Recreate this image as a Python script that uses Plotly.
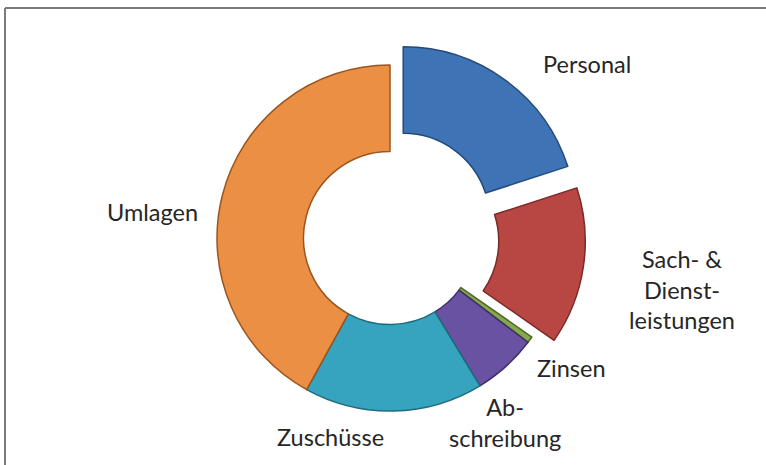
import plotly.graph_objects as go

# Anteile in Prozent, im Uhrzeigersinn ab 12 Uhr
labels = ["Personal", "Sach- & Dienstleistungen", "Zinsen", "Abschreibung", "Zuschüsse", "Umlagen"]
label_texts = ["Personal", "Sach- &<br>Dienst-<br>leistungen", "Zinsen", "Ab-<br>schreibung", "Zuschüsse", "Umlagen"]
values = [20.0, 14.7, 0.6, 6.0, 16.7, 42.0]
pulls = [0.13, 0.13, 0, 0, 0, 0]

colors = ["#3E73B5", "#B84744", "#86A84A", "#6A52A3", "#36A4BE", "#EB8F45"]
edges = ["#24497A", "#7A2A28", "#50682A", "#3E2F6A", "#1F6C7E", "#9A5520"]

# Beschriftungspositionen in Pixeln (x, y) im 766x465-Bild
W, H = 766, 465
label_pos = [(587, 64), (682, 289), (571, 368), (505, 422), (330, 437), (152, 212)]

fig = go.Figure(go.Pie(
    labels=labels,
    values=values,
    hole=0.5,
    pull=pulls,
    sort=False,
    direction="clockwise",
    rotation=0,
    textinfo="none",
    hoverinfo="label+percent",
    marker=dict(colors=colors, line=dict(color=edges, width=1.5)),
    domain=dict(x=[194.5 / W, 585.5 / W], y=[1 - 433.5 / H, 1 - 42.5 / H]),
    showlegend=False,
))

for txt, (px, py) in zip(label_texts, label_pos):
    fig.add_annotation(
        x=px / W, y=1 - py / H, xref="paper", yref="paper",
        text=txt, showarrow=False, align="center",
        xanchor="center", yanchor="middle",
        font=dict(family="Lato", size=23.5, color="#262626"),
    )

# Rahmen oben und links
fig.add_shape(type="line", xref="paper", yref="paper",
              x0=5 / W, x1=1, y0=1 - 8 / H, y1=1 - 8 / H,
              line=dict(color="#7A7A7A", width=2))
fig.add_shape(type="line", xref="paper", yref="paper",
              x0=5 / W, x1=5 / W, y0=0, y1=1 - 8 / H,
              line=dict(color="#7A7A7A", width=2))

fig.update_layout(
    width=W, height=H,
    margin=dict(l=0, r=0, t=0, b=0),
    paper_bgcolor="white",
    plot_bgcolor="white",
)

# Seitenrand entfernen, damit das Bild bei (0, 0) beginnt
fig.write_html("out.html", config={"displayModeBar": False},
               post_script="document.body.style.margin='0';")
